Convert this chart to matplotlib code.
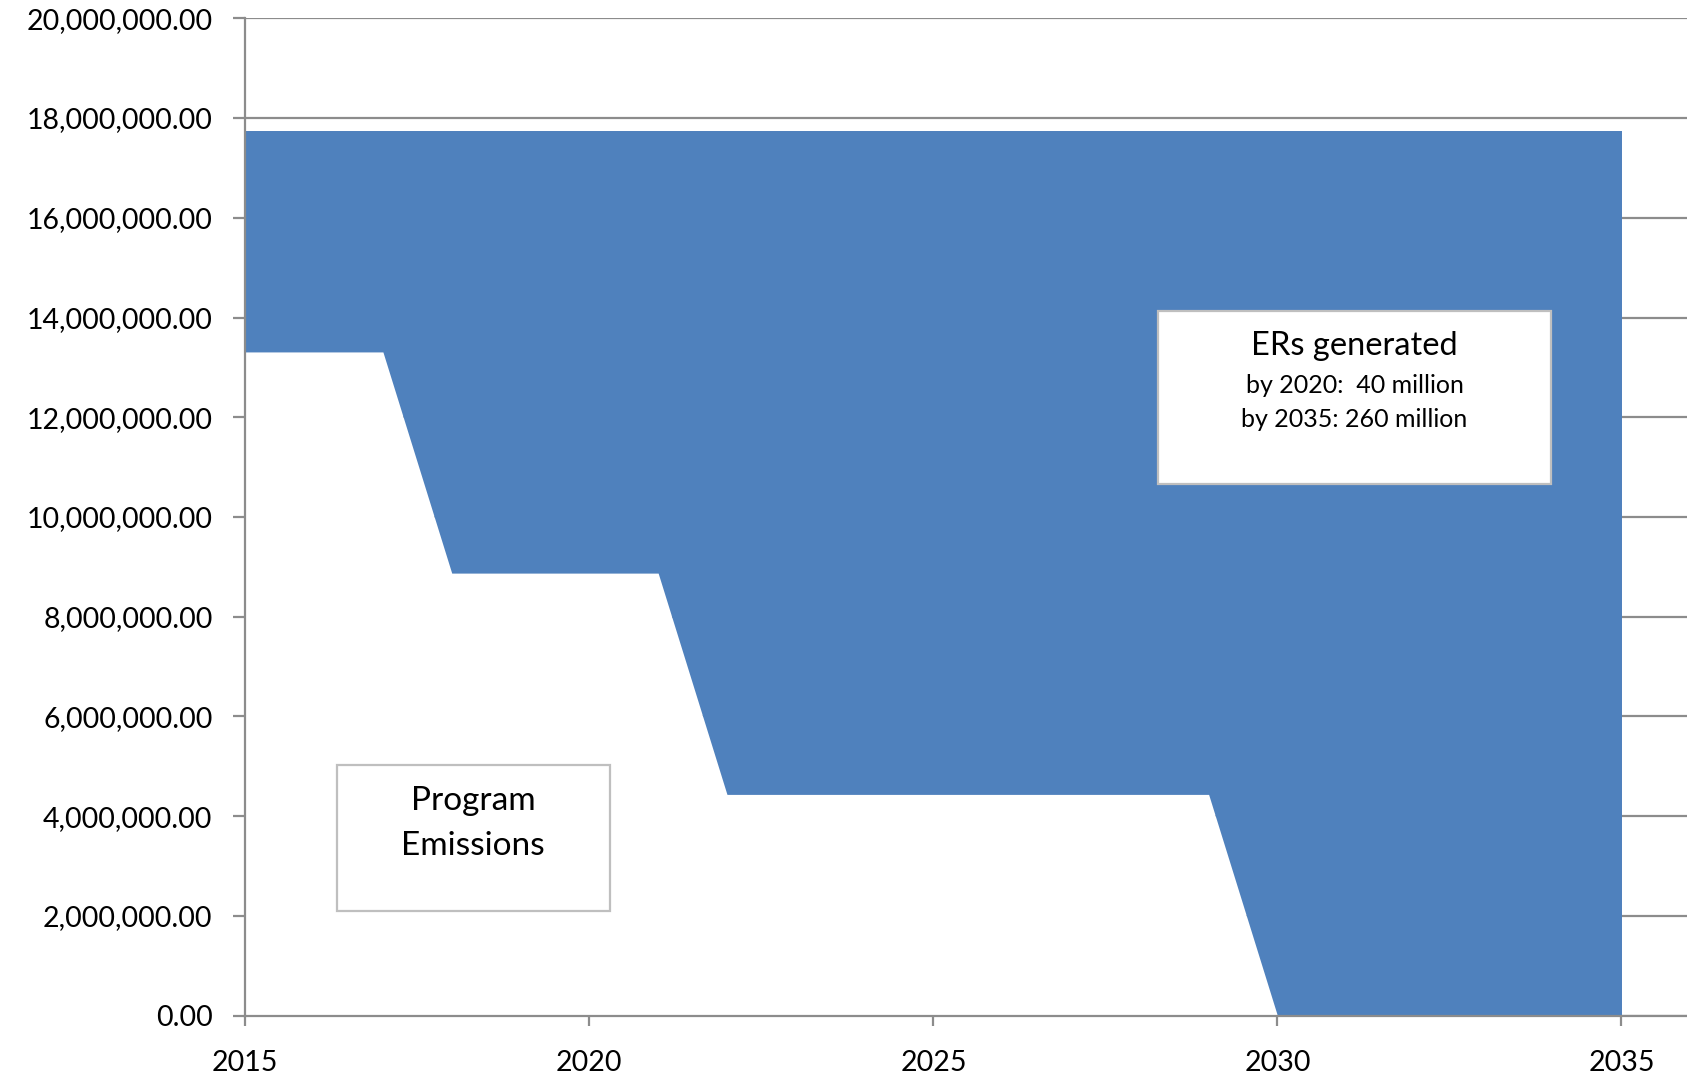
import numpy as np
import matplotlib
matplotlib.use("Agg")
import matplotlib.pyplot as plt
from matplotlib.patches import Rectangle
from matplotlib.ticker import FuncFormatter

# --- data ---
years = list(range(2015, 2036))
program_emissions = [13.31e6] * 3 + [8.875e6] * 4 + [4.4375e6] * 8 + [0.0] * 6
reference_level = [17.75e6] * len(years)

y_ticks = list(range(0, 20000001, 2000000))
x_ticks = [2015, 2020, 2025, 2030, 2035]

BLUE = "#4F81BD"
GRID = "#8C8C8C"
BOX_EDGE = "#BFBFBF"

plt.rcParams['font.family'] = ['Lato', 'DejaVu Sans']

fig = plt.figure(figsize=(16.87, 10.76), dpi=100)
ax = fig.add_axes([245.3 / 1687, 60.3 / 1076, 1445 / 1687, 997.4 / 1076])

# stacked areas: white program emissions hides the grid, blue ERs on top
ax.fill_between(years, 0, program_emissions, color="white", lw=0, zorder=1)
ax.fill_between(years, program_emissions, reference_level, color=BLUE, lw=0, zorder=1)

ax.set_xlim(2015, 2036)
ax.set_ylim(0, 20000000)
ax.set_xticks(x_ticks)
ax.set_yticks(y_ticks)
ax.yaxis.set_major_formatter(FuncFormatter(lambda v, p: f"{v:,.2f}"))

ax.grid(axis="y", color=GRID, lw=1.6, zorder=0)
ax.set_axisbelow(True)
for s in ["top", "right"]:
    ax.spines[s].set_visible(False)
for s in ["left", "bottom"]:
    ax.spines[s].set_color(GRID)
    ax.spines[s].set_linewidth(1.6)
    ax.spines[s].set_zorder(3)

ax.tick_params(axis="y", length=8.6, width=1.6, color=GRID, pad=15, labelsize=20.5)
ax.tick_params(axis="x", length=7.5, width=1.6, color=GRID, pad=17, labelsize=20.5)

# annotation boxes
ax.add_patch(Rectangle((2028.26, 10.66e6), 5.72, 3.47e6, facecolor="white",
                       edgecolor=BOX_EDGE, lw=1.6, zorder=4))
ax.text(2031.12, 13.25e6, "ERs generated", ha="center", va="baseline", fontsize=23.5, zorder=5)
ax.text(2031.12, 12.49e6, "by 2020:  40 million", ha="center", va="baseline",
        fontsize=18, zorder=5)
ax.text(2031.12, 11.81e6, "by 2035: 260 million", ha="center", va="baseline",
        fontsize=18, zorder=5)

ax.add_patch(Rectangle((2016.33, 2.1e6), 3.97, 2.93e6, facecolor="white",
                       edgecolor=BOX_EDGE, lw=1.6, zorder=4))
ax.text(2018.31, 4.125e6, "Program", ha="center", va="baseline", fontsize=24, zorder=5)
ax.text(2018.31, 3.22e6, "Emissions", ha="center", va="baseline", fontsize=24, zorder=5)

fig.savefig("out.png", dpi=100)
